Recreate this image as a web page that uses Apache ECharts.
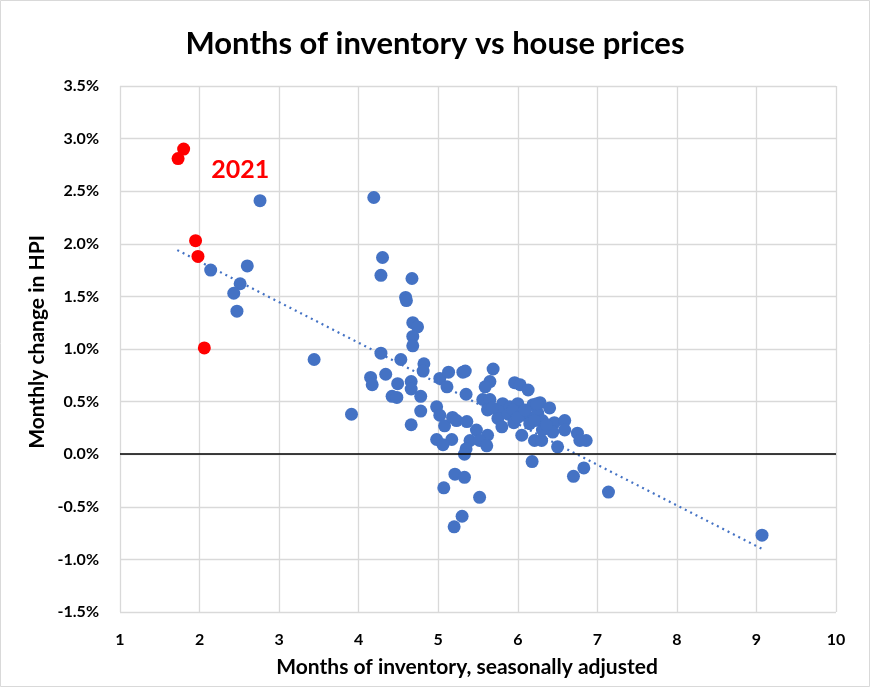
<!DOCTYPE html>
<html>
<head>
<meta charset="utf-8">
<script src="https://cdn.jsdelivr.net/npm/echarts@6/dist/echarts.min.js"></script>
<style>html,body{margin:0;padding:0;background:#fff}#c{width:870px;height:687px}</style>
</head>
<body>
<div id="c"></div>
<script>
// Months of inventory (x) vs monthly change in HPI, % (y)
const bluePoints = [
  [2.76,2.41],[2.14,1.75],[2.60,1.79],[2.51,1.62],[2.43,1.53],[2.47,1.36],[3.44,0.90],[3.91,0.38],
  [4.19,2.44],[4.30,1.87],[4.28,1.70],[4.67,1.67],[4.59,1.49],[4.60,1.46],[4.68,1.25],[4.74,1.21],[4.68,1.12],[4.68,1.03],
  [4.28,0.96],[4.53,0.90],[4.82,0.86],[4.81,0.79],[4.15,0.73],[4.17,0.66],[4.34,0.76],[4.49,0.67],[4.66,0.69],[4.66,0.62],
  [4.42,0.55],[4.48,0.54],[4.78,0.55],[4.78,0.41],[4.66,0.28],
  [5.02,0.72],[5.13,0.78],[5.31,0.78],[5.34,0.79],[5.69,0.81],[5.65,0.69],[5.59,0.64],[5.11,0.64],[5.35,0.57],[5.56,0.52],
  [5.65,0.52],[4.98,0.45],[5.02,0.37],[5.08,0.27],[5.18,0.35],[5.23,0.32],[5.36,0.31],[5.48,0.23],[5.62,0.18],[4.98,0.14],
  [5.17,0.14],[5.40,0.13],[5.52,0.13],[5.35,0.05],[5.33,0.00],[5.06,0.09],[5.61,0.08],
  [5.62,0.42],[5.81,0.48],[5.77,0.40],[5.75,0.34],[5.80,0.26],[5.68,0.44],[5.90,0.45],[5.88,0.38],[6.12,0.36],[5.95,0.30],
  [5.96,0.68],[6.03,0.66],[6.13,0.61],[6.00,0.48],[5.94,0.42],[6.07,0.40],[6.19,0.47],[6.28,0.49],[6.40,0.44],[6.25,0.39],
  [6.31,0.32],[6.46,0.30],[6.59,0.32],[6.59,0.23],[6.75,0.20],[6.86,0.13],[6.78,0.13],[6.05,0.18],[6.21,0.13],[6.30,0.13],
  [6.50,0.07],[6.00,0.35],[6.15,0.29],[6.44,0.21],[6.31,0.23],[6.21,0.32],[6.09,0.42],[6.24,0.48],[6.36,0.28],
  [6.18,-0.07],[5.21,-0.19],[5.33,-0.22],[5.07,-0.32],[5.52,-0.41],[5.30,-0.59],[5.20,-0.69],[6.70,-0.21],[6.83,-0.13],
  [7.14,-0.36],[9.07,-0.77]
];
const redPoints2021 = [[1.73,2.81],[1.80,2.90],[1.95,2.03],[1.98,1.88],[2.06,1.01]];
// Linear trendline endpoints
const trendX = [1.72, 9.07];
const trendY = [1.94, -0.90];
const yTicks = [-1.5,-1.0,-0.5,0.0,0.5,1.0,1.5,2.0,2.5,3.0,3.5];
const xTicks = [1,2,3,4,5,6,7,8,9,10];

const trend = trendX.map((x, i) => [x, trendY[i]]);

const FONT = 'Lato, "Open Sans", sans-serif';
const chart = echarts.init(document.getElementById('c'));
chart.setOption({
  animation: false,
  backgroundColor: '#fff',
  grid: { left: 120, right: 34, top: 86, bottom: 75, containLabel: false },
  title: {
    text: 'Months of inventory vs house prices',
    left: 'center', top: 23,
    textStyle: { fontFamily: FONT, fontWeight: 'bold', fontSize: 31, color: '#000' }
  },
  xAxis: {
    type: 'value', min: xTicks[0], max: xTicks[xTicks.length-1], interval: 1,
    axisLine: { show: false }, axisTick: { show: false },
    axisLabel: { fontFamily: FONT, fontWeight: 'bold', fontSize: 16, color: '#000', margin: 20 },
    splitLine: { show: true, lineStyle: { color: '#d9d9d9', width: 1.3 } }
  },
  yAxis: {
    type: 'value', min: yTicks[0], max: yTicks[yTicks.length-1], interval: 0.5,
    axisLine: { show: false }, axisTick: { show: false },
    axisLabel: { fontFamily: FONT, fontWeight: 'bold', fontSize: 16, color: '#000', margin: 21,
      formatter: v => v.toFixed(1) + '%' },
    splitLine: { show: true, lineStyle: { color: '#d9d9d9', width: 1.3 } }
  },
  graphic: [
    { type: 'rect', shape: { x: 0.5, y: 0.5, width: 869, height: 686 }, style: { fill: 'none', stroke: '#d9d9d9', lineWidth: 1 }, silent: true },
    { type: 'text', x: 37, y: 342, rotation: Math.PI/2, style: { text: 'Monthly change in HPI', fontFamily: FONT, fontWeight: 'bold', fontSize: 21, fill: '#000', align: 'center', verticalAlign: 'middle' } },
    { type: 'text', x: 467, y: 667, style: { text: 'Months of inventory, seasonally adjusted', fontFamily: FONT, fontWeight: 'bold', fontSize: 21, fill: '#000', align: 'center', verticalAlign: 'middle' } }
  ],
  series: [
    {
      type: 'line', data: trend, symbol: 'none', silent: true, z: 1,
      lineStyle: { color: '#4472C4', width: 2.2, type: [2, 4] },
      markLine: {
        silent: true, symbol: 'none', label: { show: false },
        lineStyle: { color: '#000', width: 1.5, type: 'solid' },
        data: [{ yAxis: 0 }]
      }
    },
    {
      type: 'scatter', data: bluePoints, symbolSize: 13, z: 3,
      itemStyle: { color: '#4472C4', opacity: 1 }
    },
    {
      type: 'scatter', data: redPoints2021, symbolSize: 13, z: 4,
      itemStyle: { color: '#FF0000', opacity: 1 },
      markPoint: {
        symbol: 'rect', symbolSize: 1, itemStyle: { color: 'transparent' },
        label: { show: true, formatter: '2021', color: '#FF0000', fontFamily: FONT, fontWeight: 'bold', fontSize: 25, position: 'inside' },
        data: [{ coord: [2.51, 2.70] }]
      }
    }
  ]
});
</script>
</body>
</html>
